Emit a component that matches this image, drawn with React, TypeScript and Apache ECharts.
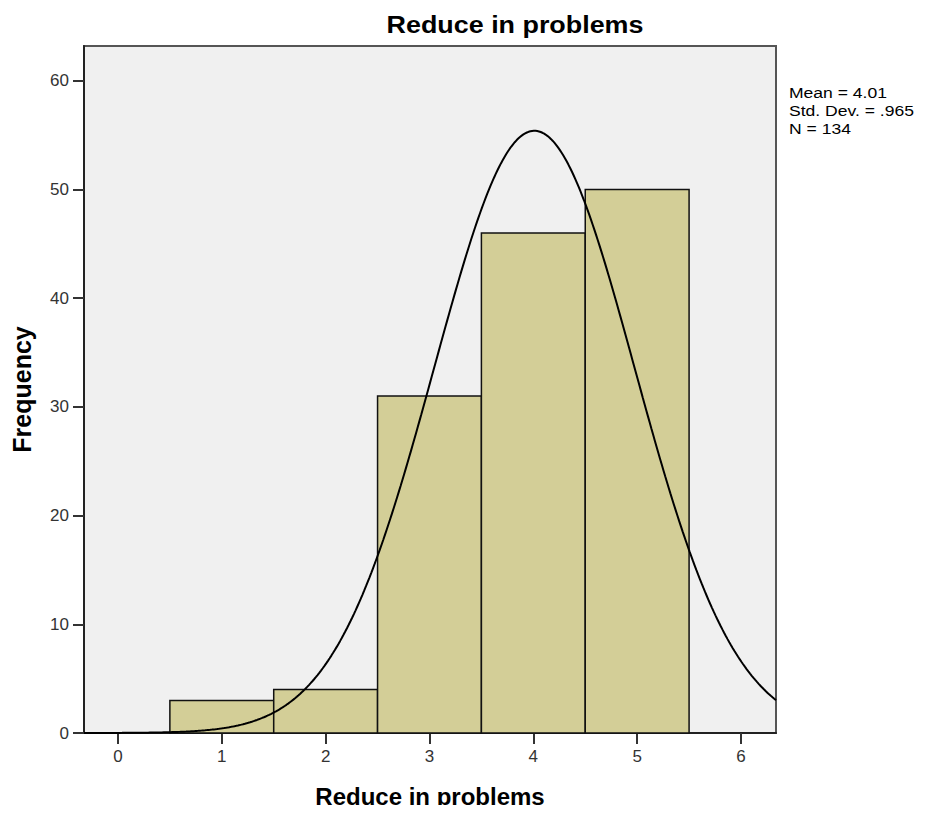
import React, { useEffect, useRef } from "react";
import * as echarts from "echarts";

// Histogram counts per response value
const categories = [1, 2, 3, 4, 5];
const frequencies = [3, 4, 31, 46, 50];

// Summary statistics shown beside the plot
const MEAN = 4.01;
const STD_DEV = 0.965;
const N = 134;

const xTicks = [0, 1, 2, 3, 4, 5, 6];
const yTicks = [0, 10, 20, 30, 40, 50, 60];

const X_MIN = -0.327;
const X_MAX = 6.337;
const Y_MAX = 63.2;

// Normal curve scaled to the histogram (bin width 1)
function normalCurve(): number[][] {
  const pts: number[][] = [];
  const steps = 400;
  for (let i = 0; i <= steps; i++) {
    const x = X_MIN + ((X_MAX - X_MIN) * i) / steps;
    const z = (x - MEAN) / STD_DEV;
    const y = (N / (STD_DEV * Math.sqrt(2 * Math.PI))) * Math.exp(-0.5 * z * z);
    pts.push([x, y]);
  }
  return pts;
}

const FONT = "'Liberation Sans', Arial, sans-serif";

export default function App() {
  const ref = useRef<HTMLDivElement>(null);

  useEffect(() => {
    if (!ref.current) return;
    const chart = echarts.init(ref.current, null, { renderer: "svg" });
    chart.setOption({
      animation: false,
      backgroundColor: "#ffffff",
      grid: {
        left: 84,
        top: 46,
        right: 150,
        bottom: 80,
        outerBoundsMode: "none",
        containLabel: false,
        show: true,
        backgroundColor: "#f0f0f0",
        borderColor: "#555",
        borderWidth: 2,
      },
      xAxis: {
        type: "value",
        min: X_MIN,
        max: X_MAX,
        name: "Reduce in problems",
        nameLocation: "middle",
        nameGap: 51,
        nameTextStyle: { fontFamily: FONT, fontSize: 24, fontWeight: "bold", color: "#000" },
        axisLine: { show: true, onZero: false, lineStyle: { color: "#222", width: 2 } },
        axisTick: { show: true, customValues: xTicks, length: 11, lineStyle: { color: "#333", width: 2 } },
        axisLabel: { customValues: xTicks, fontFamily: FONT, fontSize: 17, color: "#333", margin: 15 },
        splitLine: { show: false },
      },
      yAxis: {
        type: "value",
        min: 0,
        max: Y_MAX,
        name: "Frequency",
        nameLocation: "middle",
        nameGap: 50,
        nameRotate: 90,
        nameTextStyle: { fontFamily: FONT, fontSize: 25, fontWeight: "bold", color: "#000" },
        axisLine: { show: true, onZero: false, lineStyle: { color: "#222", width: 2 } },
        axisTick: { show: true, customValues: yTicks, length: 11, lineStyle: { color: "#333", width: 2 } },
        axisLabel: { customValues: yTicks, fontFamily: FONT, fontSize: 17, color: "#333", margin: 15 },
        splitLine: { show: false },
      },
      graphic: [
        {
          type: "text",
          x: 515,
          y: 25,
          scaleX: 1.12,
          style: {
            text: "Reduce in problems",
            fontFamily: FONT,
            fontSize: 24,
            fontWeight: "bold",
            fill: "#000",
            textAlign: "center",
            textVerticalAlign: "middle",
          },
        },
        {
          type: "text",
          x: 789,
          y: 83,
          scaleX: 1.17,
          style: {
            text: `Mean = ${MEAN.toFixed(2)}\nStd. Dev. = ${STD_DEV.toFixed(3).replace(/^0/, "")}\nN = ${N}`,
            fontFamily: FONT,
            fontSize: 15,
            lineHeight: 18,
            fill: "#000",
            textVerticalAlign: "top",
          },
        },
      ],
      series: [
        {
          type: "custom",
          data: categories.map((c, i) => [c, frequencies[i]]),
          renderItem: (params: any, api: any) => {
            const x = api.value(0);
            const y = api.value(1);
            const p0 = api.coord([x - 0.5, y]);
            const p1 = api.coord([x + 0.5, 0]);
            return {
              type: "rect",
              shape: { x: p0[0], y: p0[1], width: p1[0] - p0[0], height: p1[1] - p0[1] },
              style: { fill: "#d3ce97", stroke: "#111", lineWidth: 1.5 },
            };
          },
          z: 2,
        },
        {
          type: "line",
          data: normalCurve(),
          showSymbol: false,
          smooth: false,
          lineStyle: { color: "#000", width: 2 },
          z: 3,
          clip: true,
        },
      ],
    });
    return () => chart.dispose();
  }, []);

  return <div ref={ref} style={{ width: 926, height: 813, margin: -8 }} />;
}
